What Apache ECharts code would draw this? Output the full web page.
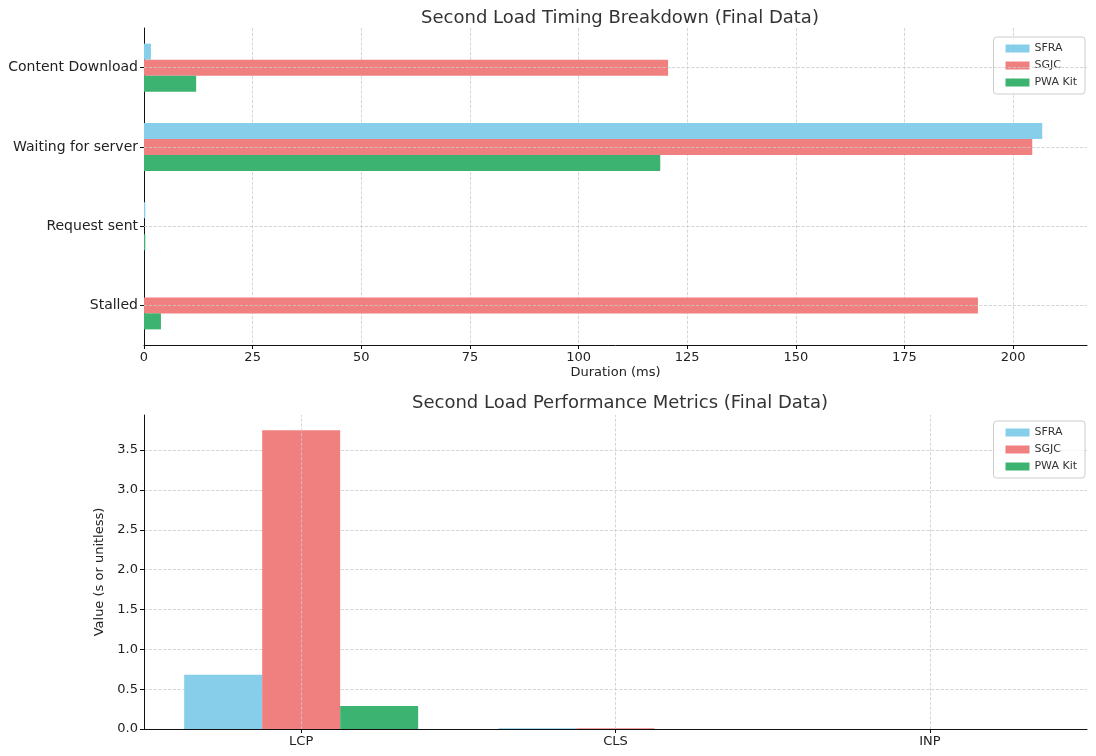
<!DOCTYPE html>
<html>
<head>
<meta charset="utf-8">
<script src="https://cdn.jsdelivr.net/npm/echarts@6/dist/echarts.min.js"></script>
<style>
  html, body { margin: 0; padding: 0; background: #fff; }
  #chart { width: 1096px; height: 756px; }
</style>
</head>
<body>
<div id="chart"></div>
<script>
// 数据
const timingCategories = ['Content Download', 'Waiting for server', 'Request sent', 'Stalled'];
const timingSFRA = [1.6, 206.7, 0.3, 0];
const timingSGJC = [120.6, 204.4, 0, 191.9];
const timingPWA = [12.0, 118.8, 0.3, 3.9];

const metricCategories = ['LCP', 'CLS', 'INP'];
const metricSFRA = [0.68, 0.01, 0];
const metricSGJC = [3.75, 0.01, 0];
const metricPWA = [0.29, 0, 0];

const seriesNames = ['SFRA', 'SGJC', 'PWA Kit'];
const colors = ['#87CEEB', '#F08080', '#3CB371'];

const font = 'DejaVu Sans';
const axisColor = '#111';
const gridLine = { show: true, lineStyle: { color: '#ccc', type: 'dashed', width: 0.8 } };

const myChart = echarts.init(document.getElementById('chart'));

// 虚线网格(类目轴中心)
function centerLines(axisKey, cats, xi, yi) {
  return {
    type: 'line',
    xAxisIndex: xi,
    yAxisIndex: yi,
    data: [],
    z: 0,
    silent: true,
    markLine: {
      silent: true,
      symbol: 'none',
      label: { show: false },
      animation: false,
      lineStyle: { color: '#ccc', type: 'dashed', width: 0.8 },
      data: cats.map(c => ({ [axisKey]: c }))
    }
  };
}

function legend(top) {
  return {
    data: seriesNames,
    orient: 'vertical',
    right: 11,
    top: top,
    icon: 'rect',
    itemWidth: 24,
    itemHeight: 8,
    itemGap: 6,
    padding: [6, 8, 6, 12],
    borderColor: '#ccc',
    borderWidth: 1,
    borderRadius: 3,
    backgroundColor: 'rgba(255,255,255,0.8)',
    textStyle: { fontFamily: font, fontSize: 11, color: '#333' }
  };
}

const option = {
  animation: false,
  title: [
    {
      text: 'Second Load Timing Breakdown (Final Data)',
      left: 615, top: 4, textAlign: 'center',
      textStyle: { fontFamily: font, fontSize: 18, fontWeight: 'normal', color: '#333' }
    },
    {
      text: 'Second Load Performance Metrics (Final Data)',
      left: 615, top: 389, textAlign: 'center',
      textStyle: { fontFamily: font, fontSize: 18, fontWeight: 'normal', color: '#333' }
    }
  ],
  legend: [legend(37), legend(421)],
  grid: [
    { left: 144, right: 9, top: 28, height: 317 },
    { left: 144, right: 9, top: 415, height: 314 }
  ],
  xAxis: [
    {
      gridIndex: 0,
      type: 'value',
      min: 0,
      max: 217,
      interval: 25,
      name: 'Duration (ms)',
      nameLocation: 'middle',
      nameGap: 21,
      nameTextStyle: { fontFamily: font, fontSize: 13, color: '#222' },
      axisLine: { show: true, lineStyle: { color: axisColor } },
      axisTick: { show: true, length: 4, lineStyle: { color: axisColor } },
      axisLabel: { fontFamily: font, fontSize: 13, color: '#222', margin: 6, showMaxLabel: false },
      splitLine: Object.assign({ showMinLine: false, showMaxLine: false }, gridLine)
    },
    {
      gridIndex: 1,
      type: 'category',
      data: metricCategories,
      axisLine: { show: true, lineStyle: { color: axisColor } },
      axisTick: { show: true, alignWithLabel: true, length: 4, lineStyle: { color: axisColor } },
      axisLabel: { fontFamily: font, fontSize: 13, color: '#222', margin: 6 },
      splitLine: { show: false }
    }
  ],
  yAxis: [
    {
      gridIndex: 0,
      type: 'category',
      inverse: true,
      data: timingCategories,
      axisLine: { show: true, lineStyle: { color: axisColor } },
      axisTick: { show: true, alignWithLabel: true, length: 4, lineStyle: { color: axisColor } },
      axisLabel: { fontFamily: font, fontSize: 14, color: '#222', margin: 6 },
      splitLine: { show: false }
    },
    {
      gridIndex: 1,
      type: 'value',
      min: 0,
      max: 3.94,
      interval: 0.5,
      name: 'Value (s or unitless)',
      nameLocation: 'middle',
      nameGap: 36,
      nameTextStyle: { fontFamily: font, fontSize: 13, color: '#222' },
      axisLine: { show: true, lineStyle: { color: axisColor } },
      axisTick: { show: true, length: 4, lineStyle: { color: axisColor } },
      axisLabel: {
        fontFamily: font, fontSize: 13, color: '#222', margin: 6, showMaxLabel: false,
        formatter: v => v.toFixed(1)
      },
      splitLine: Object.assign({ showMinLine: false, showMaxLine: false }, gridLine)
    }
  ],
  series: [
    { name: 'SFRA', type: 'bar', xAxisIndex: 0, yAxisIndex: 0, data: timingSFRA, barWidth: 16, barGap: '0%', itemStyle: { color: colors[0] }, z: 2 },
    { name: 'SGJC', type: 'bar', xAxisIndex: 0, yAxisIndex: 0, data: timingSGJC, barWidth: 16, barGap: '0%', itemStyle: { color: colors[1] }, z: 2 },
    { name: 'PWA Kit', type: 'bar', xAxisIndex: 0, yAxisIndex: 0, data: timingPWA, barWidth: 16, barGap: '0%', itemStyle: { color: colors[2] }, z: 2 },
    { name: 'SFRA', type: 'bar', xAxisIndex: 1, yAxisIndex: 1, data: metricSFRA, barWidth: 78, barGap: '0%', itemStyle: { color: colors[0] }, z: 2 },
    { name: 'SGJC', type: 'bar', xAxisIndex: 1, yAxisIndex: 1, data: metricSGJC, barWidth: 78, barGap: '0%', itemStyle: { color: colors[1] }, z: 2 },
    { name: 'PWA Kit', type: 'bar', xAxisIndex: 1, yAxisIndex: 1, data: metricPWA, barWidth: 78, barGap: '0%', itemStyle: { color: colors[2] }, z: 2 },
    centerLines('yAxis', timingCategories, 0, 0),
    centerLines('xAxis', metricCategories, 1, 1)
  ]
};

myChart.setOption(option);
</script>
</body>
</html>
